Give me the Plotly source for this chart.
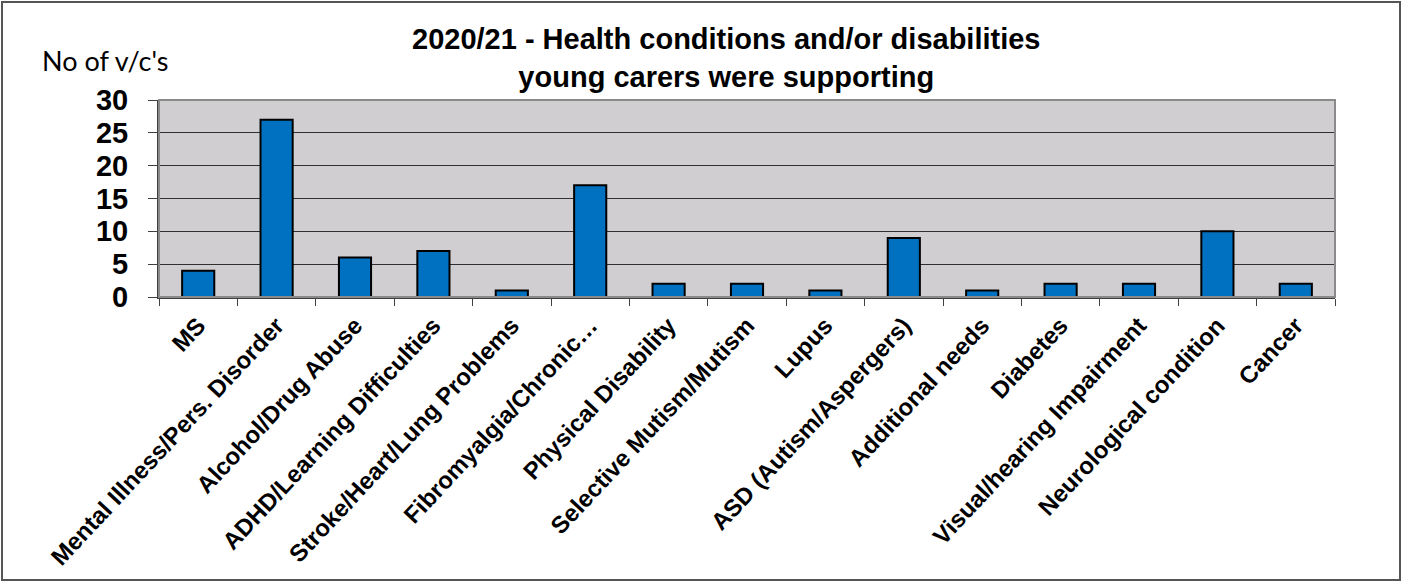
import plotly.graph_objects as go

categories = ["MS", "Mental Illness/Pers. Disorder", "Alcohol/Drug Abuse",
              "ADHD/Learning Difficulties", "Stroke/Heart/Lung Problems",
              "Fibromyalgia/Chronic…", "Physical Disability", "Selective Mutism/Mutism",
              "Lupus", "ASD (Autism/Aspergers)", "Additional needs", "Diabetes",
              "Visual/hearing Impairment", "Neurological condition", "Cancer"]
values = [4, 27, 6, 7, 1, 17, 2, 2, 1, 9, 1, 2, 2, 10, 2]
y_ticks = [0, 5, 10, 15, 20, 25, 30]

W, H = 1402, 582
L, R, T, B = 159, 67, 100, 285
pw, ph = W - L - R, H - T - B

def px(xp):
    return (xp - L) / pw

def py(yp):
    return (H - B - yp) / ph

FONT = "Arial, Liberation Sans, sans-serif"

fig = go.Figure(go.Bar(
    x=categories, y=values,
    marker=dict(color="#0070C0", line=dict(color="#000000", width=2)),
))

fig.update_layout(
    width=W, height=H,
    margin=dict(l=L, r=R, t=T, b=B, autoexpand=False),
    paper_bgcolor="white", plot_bgcolor="#D0CED0",
    bargap=0.59, showlegend=False,
    font=dict(family=FONT, color="black"),
)

fig.add_annotation(text="<b>2020/21 - Health conditions and/or disabilities<br>young carers were supporting</b>",
                   xref="paper", yref="paper", x=px(726), y=py(58),
                   xanchor="center", yanchor="middle", showarrow=False,
                   font=dict(family=FONT, size=29, color="black"))

fig.update_xaxes(
    type="category", tickangle=-47, tickson="boundaries",
    ticks="outside", ticklen=7, tickcolor="#404040", tickwidth=1,
    showline=True, linecolor="#404040", linewidth=2, mirror=False,
    showgrid=False,
    tickfont=dict(family=FONT, size=24, color="black", weight="bold"),
    ticklabelstandoff=3,
)
fig.update_yaxes(
    range=[0, 30], tickvals=y_ticks, ticktext=[str(v) for v in y_ticks],
    ticks="outside", ticklen=9, tickcolor="#404040", tickwidth=1,
    showline=True, linecolor="#404040", linewidth=2,
    showgrid=True, gridcolor="#303030", gridwidth=1.3, zeroline=False,
    tickfont=dict(family=FONT, size=29, color="black", weight="bold"),
    ticklabelstandoff=14,
)

shapes = [
    dict(type="rect", xref="paper", yref="paper", x0=0, x1=1, y0=0, y1=1,
         line=dict(color="#8a8a8a", width=2), layer="above"),
    dict(type="rect", xref="paper", yref="paper", x0=px(2), x1=px(1400), y0=py(580), y1=py(2),
         line=dict(color="#555555", width=2)),
]
fig.update_layout(shapes=shapes)

fig.add_annotation(text="No of v/c's", xref="paper", yref="paper",
                   x=px(40), y=py(60), xanchor="left", yanchor="middle", showarrow=False,
                   font=dict(family="Lato, Carlito, Calibri, sans-serif", size=27, color="black"))

fig.write_html("out.html")
